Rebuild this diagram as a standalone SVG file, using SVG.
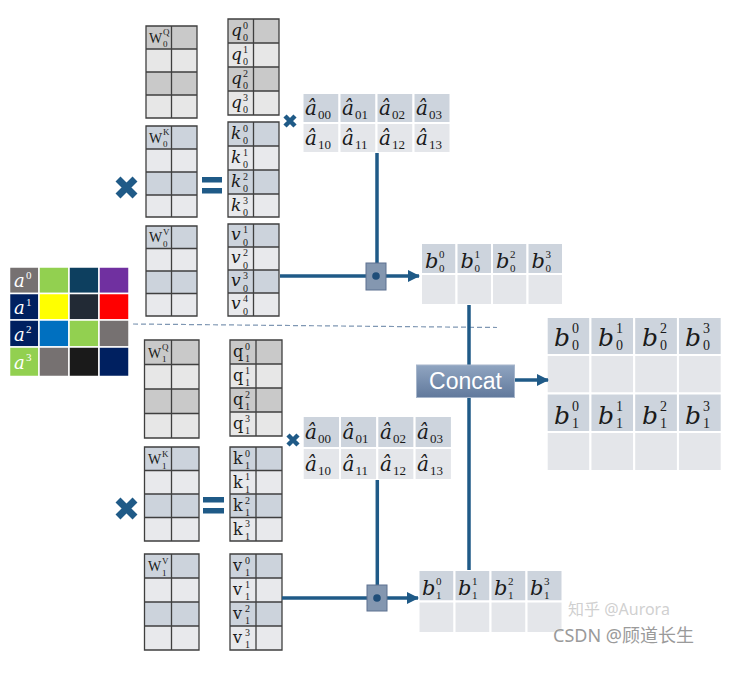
<svg xmlns="http://www.w3.org/2000/svg" width="742" height="678" viewBox="0 0 742 678">
<defs>
<style>
.bd{stroke:#3f3f3f;stroke-width:1.3}
.qd{fill:#c9c9c9}.ql{fill:#e7e7e7}
.kd{fill:#ccd3dc}.kl{fill:#e8e9ec}
.ht{fill:#cdd4dd;stroke:#fff;stroke-width:2}
.hl{fill:#e4e6ea;stroke:#fff;stroke-width:2}
.m{font-family:"DejaVu Serif","Liberation Serif",serif;font-style:italic;fill:#1a1a1a}
.u{font-family:"DejaVu Serif","Liberation Serif",serif;fill:#1a1a1a}
.w{font-family:"Liberation Serif",serif;fill:#1a1a1a}
.d{font-family:"Liberation Serif",serif;font-style:normal}
.c{fill:none;stroke:#1F5A87;stroke-width:3.5}
.x{stroke:#1F5A87;fill:none}
.eq{fill:#1F5A87}
.ac{stroke:#fff;stroke-width:1.5}
.at{font-family:"DejaVu Serif","Liberation Serif",serif;font-style:italic;fill:#fff}
.wm{font-family:"Noto Sans","Noto Sans CJK SC",sans-serif}
</style>
<marker id="ah" markerWidth="12" markerHeight="12" refX="11" refY="6" orient="auto" markerUnits="userSpaceOnUse">
<path d="M0,0 L12,6 L0,12 Z" fill="#1F5A87"/>
</marker>
<linearGradient id="cg" x1="0" y1="0" x2="0" y2="1">
<stop offset="0" stop-color="#90a5c1"/>
<stop offset="1" stop-color="#61799c"/>
</linearGradient>
</defs>
<rect width="742" height="678" fill="#fff"/>

<!-- input matrix a -->
<g id="a_matrix">
<g class="ac">
<rect x="9.5" y="267" width="29.5" height="26.5" fill="#767171"/>
<rect x="39" y="267" width="30" height="26.5" fill="#92D050"/>
<rect x="69" y="267" width="30" height="26.5" fill="#0D3F5F"/>
<rect x="99" y="267" width="30" height="26.5" fill="#7030A0"/>
<rect x="9.5" y="293.5" width="29.5" height="26.5" fill="#002060"/>
<rect x="39" y="293.5" width="30" height="26.5" fill="#FFFF00"/>
<rect x="69" y="293.5" width="30" height="26.5" fill="#222A35"/>
<rect x="99" y="293.5" width="30" height="26.5" fill="#FF0000"/>
<rect x="9.5" y="320" width="29.5" height="27" fill="#002060"/>
<rect x="39" y="320" width="30" height="27" fill="#0070C0"/>
<rect x="69" y="320" width="30" height="27" fill="#92D050"/>
<rect x="99" y="320" width="30" height="27" fill="#767171"/>
<rect x="9.5" y="347" width="29.5" height="29.5" fill="#92D050"/>
<rect x="39" y="347" width="30" height="29.5" fill="#767171"/>
<rect x="69" y="347" width="30" height="29.5" fill="#1a1a1a"/>
<rect x="99" y="347" width="30" height="29.5" fill="#002060"/>
</g>
<text class="at" x="14" y="287" font-size="18">a<tspan class="d" x="26" y="279" font-size="11">0</tspan></text>
<text class="at" x="14" y="314" font-size="18">a<tspan class="d" x="26" y="306" font-size="11">1</tspan></text>
<text class="at" x="14" y="341" font-size="18">a<tspan class="d" x="26" y="333" font-size="11">2</tspan></text>
<text class="at" x="14" y="369" font-size="18">a<tspan class="d" x="26" y="361" font-size="11">3</tspan></text>
</g>

<!-- Head 0 -->
<g id="W0Q">
<rect class="qd" x="146" y="26" width="51" height="23"/><rect class="ql" x="146" y="49" width="51" height="23"/>
<rect class="qd" x="146" y="72" width="51" height="23"/><rect class="ql" x="146" y="95" width="51" height="23"/>
<path class="bd" fill="none" d="M146,26h51v92h-51z M171.5,26v92 M146,49h51 M146,72h51 M146,95h51"/>
<text class="w" x="149" y="43" font-size="14">W<tspan x="163" y="35" font-size="9">Q</tspan><tspan x="163" y="47" font-size="9">0</tspan></text>
</g>
<g id="q0">
<rect class="qd" x="228" y="19" width="51" height="24"/><rect class="ql" x="228" y="43" width="51" height="24"/>
<rect class="qd" x="228" y="67" width="51" height="24"/><rect class="ql" x="228" y="91" width="51" height="24"/>
<path class="bd" fill="none" d="M228,19h51v96h-51z M253.5,19v96 M228,43h51 M228,67h51 M228,91h51"/>
<g class="m" font-size="17">
<text x="231" y="36">q<tspan class="d" font-size="10" x="243" y="28.5">0</tspan><tspan class="d" font-size="10" x="243" y="41">0</tspan></text>
<text x="231" y="60">q<tspan class="d" font-size="10" x="243" y="52.5">1</tspan><tspan class="d" font-size="10" x="243" y="65">0</tspan></text>
<text x="231" y="84">q<tspan class="d" font-size="10" x="243" y="76.5">2</tspan><tspan class="d" font-size="10" x="243" y="89">0</tspan></text>
<text x="231" y="108">q<tspan class="d" font-size="10" x="243" y="100.5">3</tspan><tspan class="d" font-size="10" x="243" y="113">0</tspan></text>
</g>
</g>
<g id="W0K">
<rect class="kd" x="146" y="126" width="51" height="23"/><rect class="kl" x="146" y="149" width="51" height="23"/>
<rect class="kd" x="146" y="172" width="51" height="23"/><rect class="kl" x="146" y="195" width="51" height="22"/>
<path class="bd" fill="none" d="M146,126h51v91h-51z M171.5,126v91 M146,149h51 M146,172h51 M146,195h51"/>
<text class="w" x="149" y="143" font-size="14">W<tspan x="163" y="135" font-size="9">K</tspan><tspan x="163" y="147" font-size="9">0</tspan></text>
</g>
<g id="k0">
<rect class="kd" x="228" y="122" width="51" height="24"/><rect class="kl" x="228" y="146" width="51" height="24"/>
<rect class="kd" x="228" y="170" width="51" height="24"/><rect class="kl" x="228" y="194" width="51" height="23"/>
<path class="bd" fill="none" d="M228,122h51v95h-51z M253.5,122v95 M228,146h51 M228,170h51 M228,194h51"/>
<g class="m" font-size="17">
<text x="231" y="139">k<tspan class="d" font-size="10" x="243" y="131.5">0</tspan><tspan class="d" font-size="10" x="243" y="144">0</tspan></text>
<text x="231" y="163">k<tspan class="d" font-size="10" x="243" y="155.5">1</tspan><tspan class="d" font-size="10" x="243" y="168">0</tspan></text>
<text x="231" y="187">k<tspan class="d" font-size="10" x="243" y="179.5">2</tspan><tspan class="d" font-size="10" x="243" y="192">0</tspan></text>
<text x="231" y="211">k<tspan class="d" font-size="10" x="243" y="203.5">3</tspan><tspan class="d" font-size="10" x="243" y="216">0</tspan></text>
</g>
</g>
<g id="W0V">
<rect class="kd" x="146" y="226" width="51" height="22.5"/><rect class="kl" x="146" y="248.5" width="51" height="22.5"/>
<rect class="kd" x="146" y="271" width="51" height="22.5"/><rect class="kl" x="146" y="293.5" width="51" height="22.5"/>
<path class="bd" fill="none" d="M146,226h51v90h-51z M171.5,226v90 M146,248.5h51 M146,271h51 M146,293.5h51"/>
<text class="w" x="149" y="242" font-size="14">W<tspan x="163" y="234.5" font-size="9">V</tspan><tspan x="163" y="246.5" font-size="9">0</tspan></text>
</g>
<g id="v0">
<rect class="kd" x="228" y="224" width="51" height="23"/><rect class="kl" x="228" y="247" width="51" height="23"/>
<rect class="kd" x="228" y="270" width="51" height="23"/><rect class="kl" x="228" y="293" width="51" height="23"/>
<path class="bd" fill="none" d="M228,224h51v92h-51z M253.5,224v92 M228,247h51 M228,270h51 M228,293h51"/>
<g class="m" font-size="17">
<text x="231" y="240">v<tspan class="d" font-size="10" x="243" y="233">1</tspan><tspan class="d" font-size="10" x="243" y="245.5">0</tspan></text>
<text x="231" y="263">v<tspan class="d" font-size="10" x="243" y="256">2</tspan><tspan class="d" font-size="10" x="243" y="268.5">0</tspan></text>
<text x="231" y="286">v<tspan class="d" font-size="10" x="243" y="279">3</tspan><tspan class="d" font-size="10" x="243" y="291.5">0</tspan></text>
<text x="231" y="309">v<tspan class="d" font-size="10" x="243" y="302">4</tspan><tspan class="d" font-size="10" x="243" y="314.5">0</tspan></text>
</g>
</g>
<g id="ops0">
<path class="x" stroke-width="7" d="M118,179 L135,196 M135,179 L118,196"/>
<rect class="eq" x="202" y="177" width="20" height="5.5"/><rect class="eq" x="202" y="188" width="20" height="5.5"/>
<path class="x" stroke-width="4.5" d="M285,116 L295,126 M295,116 L285,126"/>
</g>
<g id="A0">
<rect class="ht" x="302.5" y="93" width="37" height="30"/><rect class="ht" x="339.5" y="93" width="37" height="30"/>
<rect class="ht" x="376.5" y="93" width="37" height="30"/><rect class="ht" x="413.5" y="93" width="37" height="30"/>
<rect class="hl" x="302.5" y="123" width="37" height="30"/><rect class="hl" x="339.5" y="123" width="37" height="30"/>
<rect class="hl" x="376.5" y="123" width="37" height="30"/><rect class="hl" x="413.5" y="123" width="37" height="30"/>
<g class="m" font-size="20">
<text x="305" y="115">â<tspan class="d" font-size="13" x="318" y="119">00</tspan></text>
<text x="342" y="115">â<tspan class="d" font-size="13" x="355" y="119">01</tspan></text>
<text x="379" y="115">â<tspan class="d" font-size="13" x="392" y="119">02</tspan></text>
<text x="416" y="115">â<tspan class="d" font-size="13" x="429" y="119">03</tspan></text>
<text x="305" y="145">â<tspan class="d" font-size="13" x="318" y="149">10</tspan></text>
<text x="342" y="145">â<tspan class="d" font-size="13" x="355" y="149">11</tspan></text>
<text x="379" y="145">â<tspan class="d" font-size="13" x="392" y="149">12</tspan></text>
<text x="416" y="145">â<tspan class="d" font-size="13" x="429" y="149">13</tspan></text>
</g>
</g>
<g id="B0">
<rect class="ht" x="421" y="243" width="35.5" height="31"/><rect class="ht" x="456.5" y="243" width="35.5" height="31"/>
<rect class="ht" x="492" y="243" width="35.5" height="31"/><rect class="ht" x="527.5" y="243" width="35.5" height="31"/>
<rect class="hl" x="421" y="274" width="35.5" height="31"/><rect class="hl" x="456.5" y="274" width="35.5" height="31"/>
<rect class="hl" x="492" y="274" width="35.5" height="31"/><rect class="hl" x="527.5" y="274" width="35.5" height="31"/>
<g class="m" font-size="21">
<text x="425" y="268">b<tspan class="d" font-size="11" x="439" y="257.5">0</tspan><tspan class="d" font-size="11" x="439" y="271.5">0</tspan></text>
<text x="460.5" y="268">b<tspan class="d" font-size="11" x="474.5" y="257.5">1</tspan><tspan class="d" font-size="11" x="474.5" y="271.5">0</tspan></text>
<text x="496" y="268">b<tspan class="d" font-size="11" x="510" y="257.5">2</tspan><tspan class="d" font-size="11" x="510" y="271.5">0</tspan></text>
<text x="531.5" y="268">b<tspan class="d" font-size="11" x="545.5" y="257.5">3</tspan><tspan class="d" font-size="11" x="545.5" y="271.5">0</tspan></text>
</g>
</g>

<!-- Head 1 -->
<g id="W1Q">
<rect class="qd" x="144.5" y="340" width="54.5" height="24.5"/><rect class="ql" x="144.5" y="364.5" width="54.5" height="24.5"/>
<rect class="qd" x="144.5" y="389" width="54.5" height="24.5"/><rect class="ql" x="144.5" y="413.5" width="54.5" height="24.5"/>
<path class="bd" fill="none" d="M144.5,340h54.5v98h-54.5z M171.5,340v98 M144.5,364.5h54.5 M144.5,389h54.5 M144.5,413.5h54.5"/>
<text class="w" x="148" y="358" font-size="14">W<tspan x="162" y="350" font-size="9">Q</tspan><tspan x="162" y="362" font-size="9">1</tspan></text>
</g>
<g id="q1">
<rect class="qd" x="230" y="340" width="52" height="24"/><rect class="ql" x="230" y="364" width="52" height="24"/>
<rect class="qd" x="230" y="388" width="52" height="24"/><rect class="ql" x="230" y="412" width="52" height="24"/>
<path class="bd" fill="none" d="M230,340h52v96h-52z M256,340v96 M230,364h52 M230,388h52 M230,412h52"/>
<g class="u" font-size="16">
<text x="233" y="357">q<tspan class="d" font-size="10" x="245" y="349.5">0</tspan><tspan class="d" font-size="10" x="245" y="362">1</tspan></text>
<text x="233" y="381">q<tspan class="d" font-size="10" x="245" y="373.5">1</tspan><tspan class="d" font-size="10" x="245" y="386">1</tspan></text>
<text x="233" y="405">q<tspan class="d" font-size="10" x="245" y="397.5">2</tspan><tspan class="d" font-size="10" x="245" y="410">1</tspan></text>
<text x="233" y="429">q<tspan class="d" font-size="10" x="245" y="421.5">3</tspan><tspan class="d" font-size="10" x="245" y="434">1</tspan></text>
</g>
</g>
<g id="W1K">
<rect class="kd" x="144.5" y="447" width="54.5" height="23.5"/><rect class="kl" x="144.5" y="470.5" width="54.5" height="23.5"/>
<rect class="kd" x="144.5" y="494" width="54.5" height="23.5"/><rect class="kl" x="144.5" y="517.5" width="54.5" height="23.5"/>
<path class="bd" fill="none" d="M144.5,447h54.5v94h-54.5z M171.5,447v94 M144.5,470.5h54.5 M144.5,494h54.5 M144.5,517.5h54.5"/>
<text class="w" x="148" y="464" font-size="14">W<tspan x="162" y="456.5" font-size="9">K</tspan><tspan x="162" y="468.5" font-size="9">1</tspan></text>
</g>
<g id="k1">
<rect class="kd" x="230" y="447" width="52" height="23.5"/><rect class="kl" x="230" y="470.5" width="52" height="23.5"/>
<rect class="kd" x="230" y="494" width="52" height="23.5"/><rect class="kl" x="230" y="517.5" width="52" height="23.5"/>
<path class="bd" fill="none" d="M230,447h52v94h-52z M256,447v94 M230,470.5h52 M230,494h52 M230,517.5h52"/>
<g class="u" font-size="16">
<text x="233" y="464">k<tspan class="d" font-size="10" x="245" y="456.5">0</tspan><tspan class="d" font-size="10" x="245" y="469">1</tspan></text>
<text x="233" y="487.5">k<tspan class="d" font-size="10" x="245" y="480">1</tspan><tspan class="d" font-size="10" x="245" y="492.5">1</tspan></text>
<text x="233" y="511">k<tspan class="d" font-size="10" x="245" y="503.5">2</tspan><tspan class="d" font-size="10" x="245" y="516">1</tspan></text>
<text x="233" y="534.5">k<tspan class="d" font-size="10" x="245" y="527">3</tspan><tspan class="d" font-size="10" x="245" y="539.5">1</tspan></text>
</g>
</g>
<g id="W1V">
<rect class="kd" x="144.5" y="554" width="54.5" height="24"/><rect class="kl" x="144.5" y="578" width="54.5" height="24"/>
<rect class="kd" x="144.5" y="602" width="54.5" height="24"/><rect class="kl" x="144.5" y="626" width="54.5" height="24"/>
<path class="bd" fill="none" d="M144.5,554h54.5v96h-54.5z M171.5,554v96 M144.5,578h54.5 M144.5,602h54.5 M144.5,626h54.5"/>
<text class="w" x="148" y="571" font-size="14">W<tspan x="162" y="563.5" font-size="9">V</tspan><tspan x="162" y="575.5" font-size="9">1</tspan></text>
</g>
<g id="v1">
<rect class="kd" x="230" y="554" width="52" height="24"/><rect class="kl" x="230" y="578" width="52" height="24"/>
<rect class="kd" x="230" y="602" width="52" height="24"/><rect class="kl" x="230" y="626" width="52" height="24"/>
<path class="bd" fill="none" d="M230,554h52v96h-52z M256,554v96 M230,578h52 M230,602h52 M230,626h52"/>
<g class="u" font-size="16">
<text x="233" y="571">v<tspan class="d" font-size="10" x="245" y="563.5">0</tspan><tspan class="d" font-size="10" x="245" y="576">1</tspan></text>
<text x="233" y="595">v<tspan class="d" font-size="10" x="245" y="587.5">1</tspan><tspan class="d" font-size="10" x="245" y="600">1</tspan></text>
<text x="233" y="619">v<tspan class="d" font-size="10" x="245" y="611.5">2</tspan><tspan class="d" font-size="10" x="245" y="624">1</tspan></text>
<text x="233" y="643">v<tspan class="d" font-size="10" x="245" y="635.5">3</tspan><tspan class="d" font-size="10" x="245" y="648">1</tspan></text>
</g>
</g>
<g id="ops1">
<path class="x" stroke-width="7" d="M118,500 L135,517 M135,500 L118,517"/>
<rect class="eq" x="203" y="497" width="21" height="5.5"/><rect class="eq" x="203" y="508" width="21" height="5.5"/>
<path class="x" stroke-width="4.5" d="M288,435 L298,445 M298,435 L288,445"/>
</g>
<g id="A1">
<rect class="ht" x="302.7" y="416" width="37.3" height="32"/><rect class="ht" x="340" y="416" width="37.3" height="32"/>
<rect class="ht" x="377.3" y="416" width="37.3" height="32"/><rect class="ht" x="414.6" y="416" width="37.3" height="32"/>
<rect class="hl" x="302.7" y="448" width="37.3" height="32"/><rect class="hl" x="340" y="448" width="37.3" height="32"/>
<rect class="hl" x="377.3" y="448" width="37.3" height="32"/><rect class="hl" x="414.6" y="448" width="37.3" height="32"/>
<g class="m" font-size="20">
<text x="305" y="439">â<tspan class="d" font-size="13" x="318" y="443">00</tspan></text>
<text x="342.5" y="439">â<tspan class="d" font-size="13" x="355.5" y="443">01</tspan></text>
<text x="380" y="439">â<tspan class="d" font-size="13" x="393" y="443">02</tspan></text>
<text x="417" y="439">â<tspan class="d" font-size="13" x="430" y="443">03</tspan></text>
<text x="305" y="471">â<tspan class="d" font-size="13" x="318" y="475">10</tspan></text>
<text x="342.5" y="471">â<tspan class="d" font-size="13" x="355.5" y="475">11</tspan></text>
<text x="380" y="471">â<tspan class="d" font-size="13" x="393" y="475">12</tspan></text>
<text x="417" y="471">â<tspan class="d" font-size="13" x="430" y="475">13</tspan></text>
</g>
</g>
<g id="B1">
<rect class="ht" x="418.5" y="570" width="36" height="31.5"/><rect class="ht" x="454.5" y="570" width="36" height="31.5"/>
<rect class="ht" x="490.5" y="570" width="36" height="31.5"/><rect class="ht" x="526.5" y="570" width="36" height="31.5"/>
<rect class="hl" x="418.5" y="601.5" width="36" height="31.5"/><rect class="hl" x="454.5" y="601.5" width="36" height="31.5"/>
<rect class="hl" x="490.5" y="601.5" width="36" height="31.5"/><rect class="hl" x="526.5" y="601.5" width="36" height="31.5"/>
<g class="m" font-size="21">
<text x="422" y="595">b<tspan class="d" font-size="11" x="436" y="584.5">0</tspan><tspan class="d" font-size="11" x="436" y="598.5">1</tspan></text>
<text x="458" y="595">b<tspan class="d" font-size="11" x="472" y="584.5">1</tspan><tspan class="d" font-size="11" x="472" y="598.5">1</tspan></text>
<text x="494" y="595">b<tspan class="d" font-size="11" x="508" y="584.5">2</tspan><tspan class="d" font-size="11" x="508" y="598.5">1</tspan></text>
<text x="530" y="595">b<tspan class="d" font-size="11" x="544" y="584.5">3</tspan><tspan class="d" font-size="11" x="544" y="598.5">1</tspan></text>
</g>
</g>

<!-- Concat output -->
<g id="Bcat">
<rect class="ht" x="546.7" y="317" width="43.75" height="38"/><rect class="ht" x="590.45" y="317" width="43.75" height="38"/>
<rect class="ht" x="634.2" y="317" width="43.75" height="38"/><rect class="ht" x="677.95" y="317" width="43.75" height="38"/>
<rect class="hl" x="546.7" y="355" width="43.75" height="38.5"/><rect class="hl" x="590.45" y="355" width="43.75" height="38.5"/>
<rect class="hl" x="634.2" y="355" width="43.75" height="38.5"/><rect class="hl" x="677.95" y="355" width="43.75" height="38.5"/>
<rect class="ht" x="546.7" y="393.5" width="43.75" height="38.5"/><rect class="ht" x="590.45" y="393.5" width="43.75" height="38.5"/>
<rect class="ht" x="634.2" y="393.5" width="43.75" height="38.5"/><rect class="ht" x="677.95" y="393.5" width="43.75" height="38.5"/>
<rect class="hl" x="546.7" y="432" width="43.75" height="39"/><rect class="hl" x="590.45" y="432" width="43.75" height="39"/>
<rect class="hl" x="634.2" y="432" width="43.75" height="39"/><rect class="hl" x="677.95" y="432" width="43.75" height="39"/>
<g class="m" font-size="25">
<text x="554" y="346">b<tspan class="d" font-size="14" x="572" y="333">0</tspan><tspan class="d" font-size="14" x="572" y="350">0</tspan></text>
<text x="598" y="346">b<tspan class="d" font-size="14" x="616" y="333">1</tspan><tspan class="d" font-size="14" x="616" y="350">0</tspan></text>
<text x="642" y="346">b<tspan class="d" font-size="14" x="660" y="333">2</tspan><tspan class="d" font-size="14" x="660" y="350">0</tspan></text>
<text x="685" y="346">b<tspan class="d" font-size="14" x="703" y="333">3</tspan><tspan class="d" font-size="14" x="703" y="350">0</tspan></text>
<text x="554" y="424">b<tspan class="d" font-size="14" x="572" y="411">0</tspan><tspan class="d" font-size="14" x="572" y="428">1</tspan></text>
<text x="598" y="424">b<tspan class="d" font-size="14" x="616" y="411">1</tspan><tspan class="d" font-size="14" x="616" y="428">1</tspan></text>
<text x="642" y="424">b<tspan class="d" font-size="14" x="660" y="411">2</tspan><tspan class="d" font-size="14" x="660" y="428">1</tspan></text>
<text x="685" y="424">b<tspan class="d" font-size="14" x="703" y="411">3</tspan><tspan class="d" font-size="14" x="703" y="428">1</tspan></text>
</g>
</g>

<!-- connectors -->
<g id="connectors">
<line x1="133" y1="324" x2="497" y2="327.5" stroke="#7f97b3" stroke-width="1.2" stroke-dasharray="5,3"/>
<path class="c" d="M377,153 V263"/>
<path class="c" d="M280,276 H366"/>
<path class="c" d="M386,276 H419" marker-end="url(#ah)"/>
<path class="c" d="M469,305 V365"/>
<path class="c" d="M469,397 V570"/>
<path class="c" d="M514,380 H548" marker-end="url(#ah)"/>
<path class="c" d="M377.3,480 V585"/>
<path class="c" d="M282,598 H367"/>
<path class="c" d="M387,598 H418" marker-end="url(#ah)"/>
</g>

<g id="mul0">
<rect x="366" y="263" width="20" height="27" fill="#8497B0" stroke="#5d7190" stroke-width="1"/>
<circle cx="376" cy="276" r="3.8" fill="#1F4E79"/>
</g>
<g id="mul1">
<rect x="367" y="585" width="20" height="26" fill="#8497B0" stroke="#5d7190" stroke-width="1"/>
<circle cx="377" cy="598" r="3.8" fill="#1F4E79"/>
</g>
<g id="concat">
<rect x="416.5" y="365" width="98" height="32.5" fill="url(#cg)" stroke="#a7b6cb" stroke-width="1"/>
<text x="465.5" y="389" text-anchor="middle" font-family="'Liberation Sans',Arial,sans-serif" font-size="23" fill="#fff">Concat</text>
</g>

<g id="watermark">
<text class="wm" x="568" y="615" font-size="16" fill="#c4c4c4" fill-opacity="0.8">知乎 @Aurora</text>
<text class="wm" x="553" y="642" font-size="18" fill="#9a9a9a" stroke="#fff" stroke-width="0.6" paint-order="stroke">CSDN @顾道长生</text>
</g>
</svg>
